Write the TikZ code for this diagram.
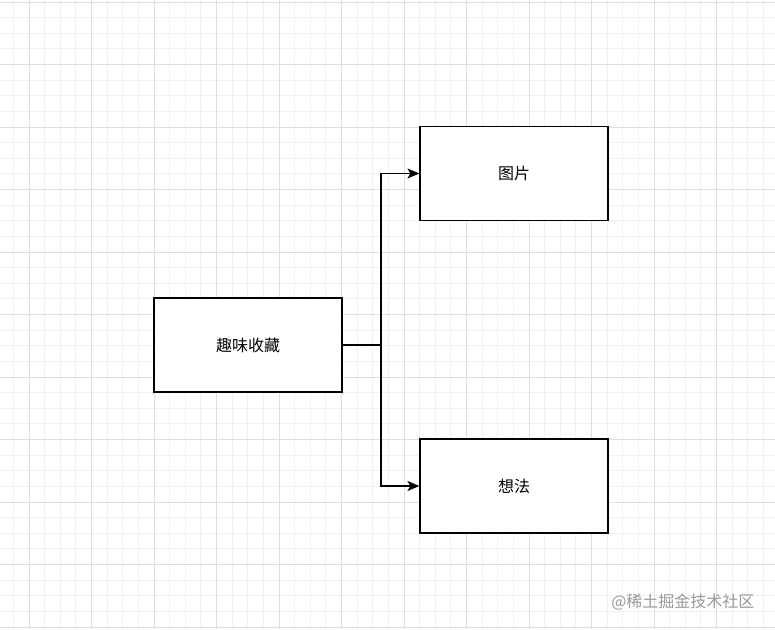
\documentclass[tikz,border=0pt]{standalone}
\usepackage{fontspec}
\newfontfamily\cjk{Noto Sans CJK SC}
\usetikzlibrary{arrows.meta}
\begin{document}
\begin{tikzpicture}[x=1pt,y=-1pt,
  box/.style={draw,line width=1.2pt,minimum width=188pt,minimum height=94pt,font=\cjk\fontsize{16}{18}\selectfont,inner sep=0pt},
  conn/.style={line width=1.2pt,-{Stealth[length=12pt,width=10pt,inset=3pt]}}]
\useasboundingbox (0,0) rectangle (775,629);
\fill[white] (0,0) rectangle (775,629);
\foreach \i in {-2,...,48} {
  \pgfmathsetmacro\xx{29+\i*15.625}
  \draw[black!6,line width=0.8pt] (\xx,0) -- (\xx,629);
}
\foreach \i in {0,...,40} {
  \pgfmathsetmacro\yy{2+\i*15.625}
  \draw[black!6,line width=0.8pt] (0,\yy) -- (775,\yy);
}
\foreach \i in {-1,...,12} {
  \pgfmathsetmacro\xx{29+\i*62.5}
  \draw[black!13,line width=0.9pt] (\xx,0) -- (\xx,629);
}
\foreach \i in {0,...,10} {
  \pgfmathsetmacro\yy{2+\i*62.5}
  \draw[black!13,line width=0.9pt] (0,\yy) -- (775,\yy);
}
\node[box,fill=white] (a) at (248,345) {趣味收藏};
\node[box,fill=white] (b) at (514,173.5) {图片};
\node[box,fill=white] (c) at (514,486) {想法};
\coordinate (j) at (381,345);
\draw[conn] (a.east) -- (j) |- (b.west);
\draw[conn] (a.east) -- (j) |- (c.west);
\node[font=\cjk\fontsize{16}{18}\selectfont,text=black!40,anchor=east] (w) at (758,602) {@稀土掘金技术社区};
\end{tikzpicture}
\end{document}
